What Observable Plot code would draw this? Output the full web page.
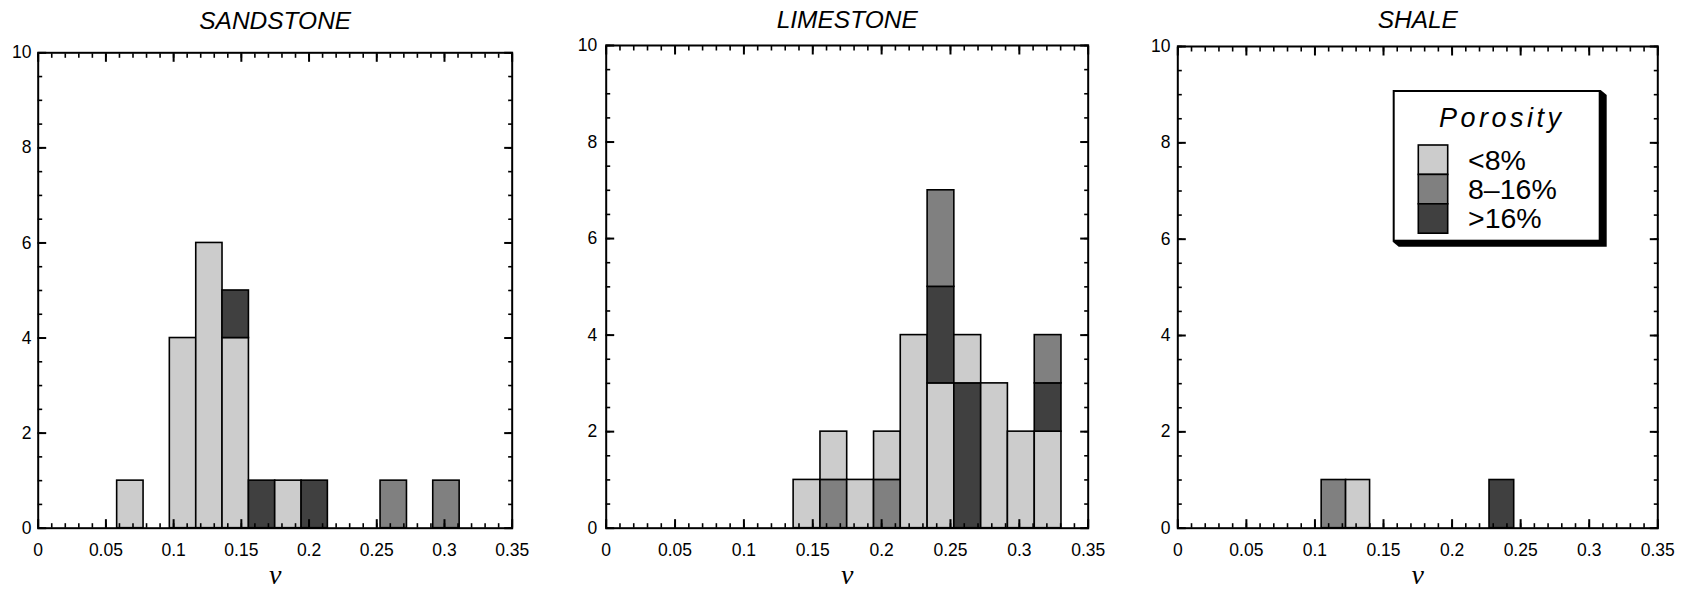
<!DOCTYPE html>
<html>
<head>
<meta charset="utf-8">
<script src="https://cdn.jsdelivr.net/npm/d3@7"></script>
<script src="https://cdn.jsdelivr.net/npm/@observablehq/plot@0.6"></script>
<style>
  html, body { margin: 0; padding: 0; background: #fff; }
  #wrap { position: relative; width: 1690px; height: 591px; overflow: hidden; color: #000; }
  #wrap svg { position: absolute; top: 0; overflow: visible; }
</style>
</head>
<body>
<div id="wrap"></div>
<script>
// ---------- data ----------
const porosityClasses = ["<8%", "8–16%", ">16%"];
const porosityColors = ["#cccccc", "#808080", "#404040"];
const legendTitle = "Porosity";
const panelTitles = ["SANDSTONE", "LIMESTONE", "SHALE"];
const axisLabel = "ν";
const nuTicks = [0, 0.05, 0.1, 0.15, 0.2, 0.25, 0.3, 0.35];
const countTicks = [0, 2, 4, 6, 8, 10];

// segments: [bin low ν, bin high ν, porosity class, count]  (listed bottom → top within a bin)
const sandstone = [
  [0.0583, 0.0778, "<8%", 1],
  [0.0972, 0.1167, "<8%", 4],
  [0.1167, 0.1361, "<8%", 6],
  [0.1361, 0.1556, "<8%", 4],
  [0.1361, 0.1556, ">16%", 1],
  [0.1556, 0.1750, ">16%", 1],
  [0.1750, 0.1945, "<8%", 1],
  [0.1945, 0.2139, ">16%", 1],
  [0.2528, 0.2723, "8–16%", 1],
  [0.2917, 0.3112, "8–16%", 1]
];
const limestone = [
  [0.1361, 0.1556, "<8%", 1],
  [0.1556, 0.1750, "8–16%", 1],
  [0.1556, 0.1750, "<8%", 1],
  [0.1750, 0.1945, "<8%", 1],
  [0.1945, 0.2139, "8–16%", 1],
  [0.1945, 0.2139, "<8%", 1],
  [0.2139, 0.2334, "<8%", 4],
  [0.2334, 0.2528, "<8%", 3],
  [0.2334, 0.2528, ">16%", 2],
  [0.2334, 0.2528, "8–16%", 2],
  [0.2528, 0.2723, ">16%", 3],
  [0.2528, 0.2723, "<8%", 1],
  [0.2723, 0.2917, "<8%", 3],
  [0.2917, 0.3112, "<8%", 2],
  [0.3112, 0.3306, "<8%", 2],
  [0.3112, 0.3306, ">16%", 1],
  [0.3112, 0.3306, "8–16%", 1]
];
const shale = [
  [0.1049, 0.1227, "8–16%", 1],
  [0.1227, 0.1402, "<8%", 1],
  [0.2273, 0.2453, ">16%", 1]
];

// ---------- layout (pixels) ----------
const H = 591, frameBottom = 527.7;
const layouts = [
  {left: 0,    ml: 37.7, mt: 52.3, fw: 474, mr: 28, yPad: 6.7, titleBase: 29},
  {left: 560,  ml: 45.7, mt: 45,   fw: 482, mr: 22, yPad: 9,   titleBase: 28},
  {left: 1130, ml: 47.3, mt: 46,   fw: 480, mr: 32, yPad: 7.3, titleBase: 28}
];
const sans = "'Liberation Sans', Arial, Helvetica, sans-serif";
const minorX = d3.ticks(0, 0.35, 35);
const minorY = d3.ticks(0, 10, 20);

function panel(segments, lay, title) {
  const rows = segments.map(([lo, hi, cls, n]) => ({lo, hi, cls, n}));
  const noText = () => "";
  const svg = Plot.plot({
    width: lay.ml + lay.fw + lay.mr,
    height: H,
    marginLeft: lay.ml,
    marginRight: lay.mr,
    marginTop: lay.mt,
    marginBottom: H - frameBottom,
    style: {fontFamily: sans, fontSize: "17.5px", background: "transparent", color: "#000"},
    x: {domain: [0, 0.35]},
    y: {domain: [0, 10]},
    color: {domain: porosityClasses, range: porosityColors},
    marks: [
      Plot.rectY(rows, {x1: "lo", x2: "hi", y: "n", fill: "cls", stroke: "#000", strokeWidth: 1.6}),
      // minor ticks (inward) on all four sides
      Plot.axisX(minorX, {anchor: "bottom", tickSize: -4.5, tickFormat: noText, label: null, strokeWidth: 1.6}),
      Plot.axisX(minorX, {anchor: "top", tickSize: -4.5, tickFormat: noText, label: null, strokeWidth: 1.6}),
      Plot.axisY(minorY, {anchor: "left", tickSize: -4.5, tickFormat: noText, label: null, strokeWidth: 1.6}),
      Plot.axisY(minorY, {anchor: "right", tickSize: -4.5, tickFormat: noText, label: null, strokeWidth: 1.6}),
      // major ticks (inward)
      Plot.axisX(nuTicks, {anchor: "bottom", tickSize: -8.5, tickFormat: noText, label: null, strokeWidth: 2}),
      Plot.axisX(nuTicks, {anchor: "top", tickSize: -8.5, tickFormat: noText, label: null, strokeWidth: 2}),
      Plot.axisY(countTicks, {anchor: "left", tickSize: -8.5, tickFormat: noText, label: null, strokeWidth: 2}),
      Plot.axisY(countTicks, {anchor: "right", tickSize: -8.5, tickFormat: noText, label: null, strokeWidth: 2}),
      // tick labels
      Plot.axisX(nuTicks, {anchor: "bottom", tickSize: 0, tickPadding: 15.6, tickFormat: d => String(d), label: null}),
      Plot.axisY(countTicks, {anchor: "left", tickSize: 0, tickPadding: lay.yPad, tickFormat: d => String(d), label: null}),
      Plot.frame({stroke: "#000", strokeWidth: 2}),
      // panel title
      Plot.text([title], {text: d => d, frameAnchor: "top", dy: lay.titleBase - lay.mt, lineAnchor: "bottom",
        fontSize: 24.5, fontStyle: "italic", fontFamily: sans, fill: "#000"}),
      // x label ν
      Plot.text([axisLabel], {text: d => d, frameAnchor: "bottom", dy: 55.5, lineAnchor: "bottom",
        fontSize: 28, fontStyle: "italic", fontFamily: "'Liberation Serif', 'DejaVu Serif', serif", fill: "#000"})
    ]
  });
  svg.style.left = lay.left + "px";
  return svg;
}

const wrap = document.getElementById("wrap");
[sandstone, limestone, shale].forEach((seg, i) => wrap.appendChild(panel(seg, layouts[i], panelTitles[i])));

// ---------- legend (inside SHALE panel) ----------
const L = {ox: 1380, oy: 80, x: 1392.7, y: 90, w: 208, h: 151.7, sdx: 6, sdy: 5};
const lg = d3.select(wrap).append("svg")
  .attr("width", 240).attr("height", 180)
  .style("left", L.ox + "px").style("top", L.oy + "px");
const bx = L.x - L.ox, by = L.y - L.oy;
lg.append("polygon")
  .attr("points", [
    [bx + L.w, by], [bx + L.w + L.sdx, by + L.sdy], [bx + L.w + L.sdx, by + L.h + L.sdy],
    [bx + L.sdx, by + L.h + L.sdy], [bx, by + L.h]
  ].map(p => p.join(",")).join(" "))
  .attr("fill", "#000");
lg.append("rect")
  .attr("x", bx + 1).attr("y", by + 1).attr("width", L.w - 2).attr("height", L.h - 2)
  .attr("fill", "#fff").attr("stroke", "#000").attr("stroke-width", 2);
lg.append("text")
  .attr("x", 1439 - L.ox).attr("y", 127 - L.oy)
  .attr("font-family", sans).attr("font-style", "italic").attr("font-size", 27)
  .attr("letter-spacing", "3.5px")
  .text(legendTitle);
porosityClasses.forEach((c, i) => {
  lg.append("rect")
    .attr("x", 1418.3 - L.ox).attr("y", 145 + i * 29.4 - L.oy)
    .attr("width", 29.4).attr("height", 29.4)
    .attr("fill", porosityColors[i]).attr("stroke", "#000").attr("stroke-width", 1.6);
  lg.append("text")
    .attr("x", 1468 - L.ox).attr("y", 170 + i * 29.2 - L.oy)
    .attr("font-family", sans).attr("font-size", 28.5)
    .text(c);
});
</script>
</body>
</html>
